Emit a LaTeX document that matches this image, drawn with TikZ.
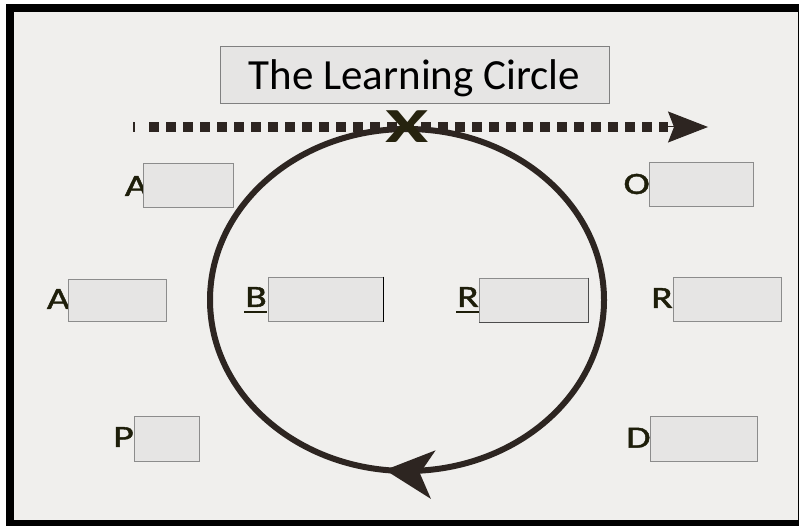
\documentclass[tikz,border=0pt]{standalone}
\usepackage{fontspec}
\setmainfont{Carlito}
\newfontfamily\letterfont[FakeBold=1.2]{Carlito}
\usetikzlibrary{arrows.meta,decorations.markings}
\definecolor{bg}{HTML}{F0EFED}
\definecolor{boxfill}{HTML}{E6E5E4}
\definecolor{boxline}{HTML}{8C8C8C}
\definecolor{ink}{HTML}{2D2521}
\definecolor{letter}{HTML}{1E1E0A}
\definecolor{xmarkc}{HTML}{26230F}
\newcommand{\wideletter}[1]{\scalebox{1.28}[1]{#1}}
\begin{document}
\begin{tikzpicture}[x=1pt,y=-1pt,
  blank/.style={draw=boxline, fill=boxfill, line width=1pt, inner sep=0pt},
  lettr/.style={text=letter, font=\letterfont\fontsize{31}{31}\selectfont, inner sep=0pt, anchor=east},
  uline/.style={draw=letter, line width=2.2pt},
]
\useasboundingbox (0,0) rectangle (799,526);
\fill[white] (0,0) rectangle (799,526);
\fill[black] (6,4) rectangle (799,526);
\fill[bg] (14,12) rectangle (797.5,520);

% title
\node[blank, draw=gray, minimum width=389pt, minimum height=57pt] (title) at (414.5,75.5) {};
\node[font=\fontsize{43}{43}\selectfont, text=black, anchor=base, inner sep=0pt] (titletext) at (414.5,90) {The Learning Circle};

% dashed timeline
\coordinate (tick) at (133,127);
\coordinate (tickend) at (135,127);
\coordinate (dstart) at (149,127);
\coordinate (dend) at (668,127);
\coordinate (dtip) at (708,127);
\draw[ink, line width=10.5pt] (tick) -- (tickend);
\draw[ink, line width=10.5pt, dash pattern=on 10pt off 7pt] (dstart) -- (dend);
\draw[ink, line width=1pt, -{Stealth[length=40pt,width=31pt,inset=6pt]}] (dend) -- (dtip);

% learning circle
\draw[ink, line width=6pt, postaction={decorate},
  decoration={markings, mark=at position 0.269 with {\arrow{Stealth[length=48pt,width=48pt,inset=13pt]}}}]
  (407,300) ellipse [x radius=197, y radius=171];

% X mark
\node[text=xmarkc, font=\bfseries\fontsize{49}{49}\selectfont, inner sep=0pt] (xmark) at (407,127) {\scalebox{1.6}[1]{X}};

% letters (drawn beneath the boxes)
\node[lettr] (lA1) at (148,186) {\wideletter{A}};
\node[lettr] (lA2) at (70,299) {\wideletter{A}};
\node[lettr] (lB) at (267,297) {\wideletter{B}};
\node[lettr] (lR1) at (479,297) {\wideletter{R}};
\node[lettr] (lO) at (650,184) {\wideletter{O}};
\node[lettr] (lR2) at (673,298) {\wideletter{R}};
\node[lettr] (lP) at (134,437) {\wideletter{P}};
\node[lettr, anchor=west] (lD) at (626,437) {\wideletter{Di}};

\draw[uline] (lB.south west) ++(-1,5) coordinate (ubs) -- (lB.south east |- ubs);
\draw[uline] (lR1.south west) ++(-1,5) coordinate (urs) -- (lR1.south east |- urs);

% boxes
\node[blank, minimum width=90pt, minimum height=44pt] (bA1) at (188,186) {};
\node[blank, minimum width=98pt, minimum height=42pt] (bA2) at (117,300) {};
\node[blank, minimum width=115pt, minimum height=44pt] (bB) at (325.5,299) {};
\draw[black, line width=1.3pt] (bB.north east) -- (bB.south east);
\node[blank, minimum width=109pt, minimum height=44pt] (bR1) at (533.5,300) {};
\draw[black!70, line width=1.3pt] (bR1.north east) -- (bR1.south east) -- (bR1.south west);
\node[blank, minimum width=104pt, minimum height=44pt] (bO) at (701,185) {};
\node[blank, minimum width=108pt, minimum height=44pt] (bR2) at (727,299) {};
\node[blank, minimum width=65pt, minimum height=45pt] (bP) at (166.5,438.5) {};
\node[blank, minimum width=107pt, minimum height=45pt] (bD) at (703.5,438.5) {};
\end{tikzpicture}
\end{document}
